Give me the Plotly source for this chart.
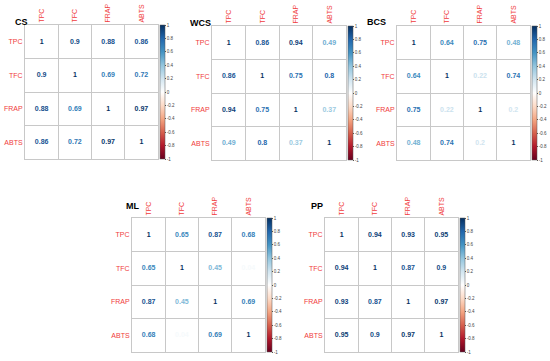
import plotly.graph_objects as go
from plotly.colors import find_intermediate_color, hex_to_rgb

W, H = 550, 361

labels = ["TPC", "TFC", "FRAP", "ABTS"]
panel_names = ["CS", "WCS", "BCS", "ML", "PP"]

cs = [[1, 0.9, 0.88, 0.86], [0.9, 1, 0.69, 0.72], [0.88, 0.69, 1, 0.97], [0.86, 0.72, 0.97, 1]]
wcs = [[1, 0.86, 0.94, 0.49], [0.86, 1, 0.75, 0.8], [0.94, 0.75, 1, 0.37], [0.49, 0.8, 0.37, 1]]
bcs = [[1, 0.64, 0.75, 0.48], [0.64, 1, 0.22, 0.74], [0.75, 0.22, 1, 0.2], [0.48, 0.74, 0.2, 1]]
ml = [[1, 0.65, 0.87, 0.68], [0.65, 1, 0.45, 0.04], [0.87, 0.45, 1, 0.69], [0.68, 0.04, 0.69, 1]]
pp = [[1, 0.94, 0.93, 0.95], [0.94, 1, 0.87, 0.9], [0.93, 0.87, 1, 0.97], [0.95, 0.9, 0.97, 1]]

cbar_ticks = [1, 0.8, 0.6, 0.4, 0.2, 0, -0.2, -0.4, -0.6, -0.8, -1]

# style
rdbu = ["#67001F", "#B2182B", "#D6604D", "#F4A582", "#FDDBC7", "#FFFFFF",
        "#D1E5F0", "#92C5DE", "#4393C3", "#2166AC", "#053061"]
rdbu_rgb = [hex_to_rgb(c) for c in rdbu]
n = len(rdbu) - 1
cscale = [[i / n, "rgb(%d,%d,%d)" % c] for i, c in enumerate(rdbu_rgb)]


def scale_color(v):
    p = (v + 1) / 2 * n
    i = min(int(p), n - 1)
    f = p - i
    c = find_intermediate_color(rdbu_rgb[i], rdbu_rgb[i + 1], f)
    return "rgb(%d,%d,%d)" % tuple(round(x) for x in c)


# grid boxes in pixels: left, top, right, bottom
boxes = [(25, 25, 158, 159), (212, 26, 346, 160), (397, 26, 530, 160),
         (132, 218, 265, 352), (325, 218, 458, 352)]
title_pos = [(13, 15), (200, 16), (388, 15), (124, 206), (317, 206)]

fig = go.Figure()
mats = [cs, wcs, bcs, ml, pp]
layout_axes = {}
for k, (name, mat, box, tp) in enumerate(zip(panel_names, mats, boxes, title_pos)):
    l, t, r, b = box
    xs, ys, vals, txt = [], [], [], []
    for i in range(4):
        for j in range(4):
            xs.append(j + 1)
            ys.append(i + 1)
            vals.append(mat[i][j])
            txt.append(f"{mat[i][j]:g}")
    tcols = [scale_color(v) for v in vals]
    sfx = "" if k == 0 else str(k + 1)
    fig.add_trace(go.Scatter(
        x=xs, y=ys, mode="markers+text", text=txt,
        textfont=dict(color=tcols, size=7, family="Liberation Sans", weight="bold"),
        textposition="middle center",
        marker=dict(size=1, opacity=0, color=vals, colorscale=cscale, cmin=-1, cmax=1,
                    showscale=True,
                    colorbar=dict(
                        x=(r + 1.5) / W, xanchor="left", xref="paper",
                        y=1 - (t + b) / 2 / H, yanchor="middle",
                        lenmode="pixels", len=(b - t), thickness=4.5,
                        outlinewidth=0.5, outlinecolor="#555555",
                        tickvals=cbar_ticks, ticktext=[f"{v:g}" for v in cbar_ticks],
                        ticks="outside", ticklen=1, tickwidth=0.5, tickcolor="#555",
                        tickfont=dict(size=4.5, color="#444", family="Liberation Sans"),
                        xpad=0, ypad=0)),
        hoverinfo="skip", showlegend=False,
        xaxis="x" + sfx, yaxis="y" + sfx))
    ax = dict(domain=[l / W, r / W], range=[0.5, 4.5], tickvals=[1, 2, 3, 4],
              ticktext=labels, side="top", tickangle=-90, showgrid=False, zeroline=False,
              showline=True, mirror=True, linecolor="#C8C8C8", linewidth=1,
              minor=dict(tick0=0.5, dtick=1, showgrid=True, gridcolor="#C8C8C8", gridwidth=1),
              tickfont=dict(color="#F03C3C", size=7, family="Liberation Sans"),
              anchor="y" + sfx, fixedrange=True, automargin=False)
    ay = dict(domain=[1 - b / H, 1 - t / H], range=[4.5, 0.5], tickvals=[1, 2, 3, 4],
              ticktext=labels, showgrid=False, zeroline=False,
              showline=True, mirror=True, linecolor="#C8C8C8", linewidth=1,
              minor=dict(tick0=0.5, dtick=1, showgrid=True, gridcolor="#C8C8C8", gridwidth=1),
              tickfont=dict(color="#F03C3C", size=7, family="Liberation Sans"),
              anchor="x" + sfx, fixedrange=True, automargin=False)
    layout_axes["xaxis" + sfx] = ax
    layout_axes["yaxis" + sfx] = ay
    fig.add_annotation(x=tp[0] / W, y=1 - tp[1] / H, xref="paper", yref="paper",
                       text=f"<b>{name}</b>", showarrow=False,
                       font=dict(size=9, color="black", family="Liberation Sans"))

fig.update_layout(width=W, height=H,
                  margin=dict(l=0, r=0, t=0, b=0, autoexpand=False),
                  paper_bgcolor="white", plot_bgcolor="white", **layout_axes)
fig.write_html("out.html", config={"displayModeBar": False},
               post_script="document.body.style.margin='0';document.body.style.overflow='hidden';")
